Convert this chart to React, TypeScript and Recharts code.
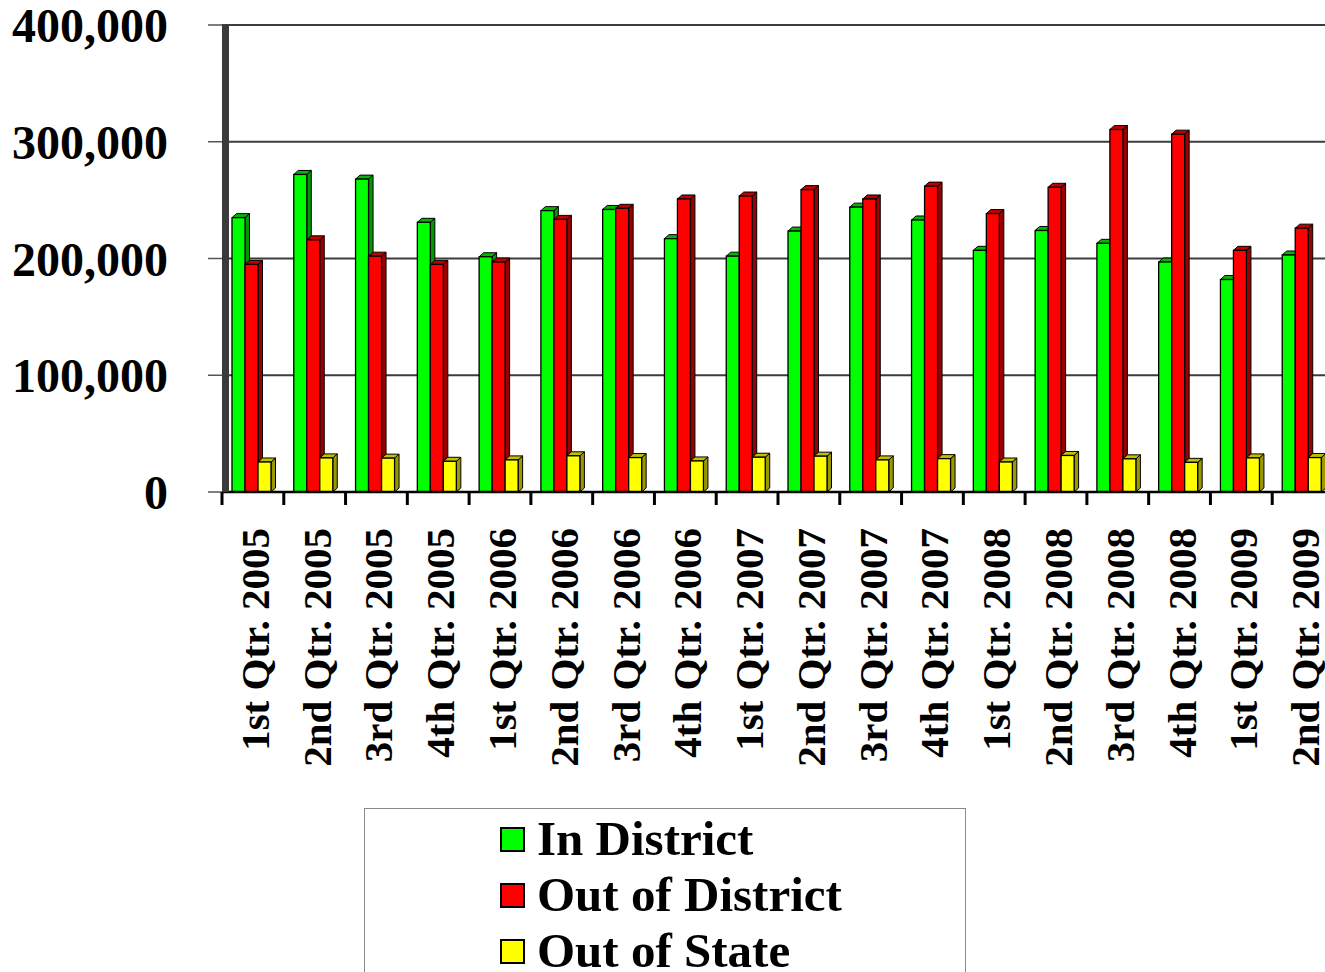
import React from "react";
import {
  BarChart,
  Bar,
  XAxis,
  YAxis,
  CartesianGrid,
  Legend,
} from "recharts";

const quarters = [
  "1st Qtr. 2005",
  "2nd Qtr. 2005",
  "3rd Qtr. 2005",
  "4th Qtr. 2005",
  "1st Qtr. 2006",
  "2nd Qtr. 2006",
  "3rd Qtr. 2006",
  "4th Qtr. 2006",
  "1st Qtr. 2007",
  "2nd Qtr. 2007",
  "3rd Qtr. 2007",
  "4th Qtr. 2007",
  "1st Qtr. 2008",
  "2nd Qtr. 2008",
  "3rd Qtr. 2008",
  "4th Qtr. 2008",
  "1st Qtr. 2009",
  "2nd Qtr. 2009",
];

const inDistrict = [
  235000, 272000, 268000, 231000, 201500, 241000, 242000, 217000, 202000,
  223500, 244000, 233000, 207000, 224000, 213000, 197000, 182000, 203000,
];

const outOfDistrict = [
  195000, 216000, 202000, 195000, 197000, 233500, 243000, 251000, 253500,
  259000, 251000, 262000, 238500, 261000, 310500, 306500, 207000, 226000,
];

const outOfState = [
  25700, 29200, 29000, 26300, 27500, 31000, 29500, 26600, 29800, 30700,
  27500, 28600, 25700, 31300, 28400, 25400, 29200, 29500,
];

const yTicks = [0, 100000, 200000, 300000, 400000];

const series = [
  { key: "inDistrict", name: "In District", front: "#00ff00", side: "#009a00", top: "#00b800" },
  { key: "outOfDistrict", name: "Out of District", front: "#ff0000", side: "#9a0000", top: "#c00000" },
  { key: "outOfState", name: "Out of State", front: "#ffff00", side: "#9a9a00", top: "#c0c000" },
];

const data = quarters.map((q, i) => ({
  quarter: q,
  inDistrict: inDistrict[i],
  outOfDistrict: outOfDistrict[i],
  outOfState: outOfState[i],
}));

const CHART_W = 1345;
const CHART_H = 972;
const Y_W = 222;
const M_RIGHT = 11;
const CAT_W = (CHART_W - Y_W - M_RIGHT) / quarters.length;
const FONT = "'Liberation Serif', 'Times New Roman', serif";

// fake 3d column: side + top faces behind the front face
function make3d(front: string, side: string, top: string) {
  return (props: any) => {
    const { x, y, width, height } = props;
    if (height == null || width == null) return null;
    const d = 4.5;
    const dy = 4;
    const x0 = x - 1;
    const w = width;
    const h = height;
    return (
      <g>
        <polygon
          points={`${x0 + w},${y} ${x0 + w + d},${y - dy} ${x0 + w + d},${y + h - dy} ${x0 + w},${y + h}`}
          fill={side}
          stroke="#000"
          strokeWidth={1}
        />
        <polygon
          points={`${x0},${y} ${x0 + d},${y - dy} ${x0 + w + d},${y - dy} ${x0 + w},${y}`}
          fill={top}
          stroke="#000"
          strokeWidth={1}
        />
        <rect x={x0} y={y} width={w} height={h} fill={front} stroke="#000" strokeWidth={1.3} />
      </g>
    );
  };
}

function XTick(props: any) {
  const { x, y, payload } = props;
  const edge = x - CAT_W / 2;
  return (
    <g>
      <line x1={edge} y1={y} x2={edge} y2={y + 13} stroke="#000" strokeWidth={3} />
      <text
        transform={`translate(${x + 16},${y + 36}) rotate(-90)`}
        textAnchor="end"
        fontFamily={FONT}
        fontWeight="bold"
        fontSize={41}
        fill="#000"
      >
        {payload.value}
      </text>
    </g>
  );
}

function LegendBox() {
  return (
    <div
      style={{
        boxSizing: "border-box",
        width: 602,
        height: 200,
        border: "1px solid #8a8a8a",
        background: "#fff",
        paddingTop: 2,
        paddingLeft: 135,
        fontFamily: FONT,
        fontWeight: "bold",
        fontSize: 49,
        color: "#000",
      }}
    >
      {series.map((s) => (
        <div key={s.key} style={{ display: "flex", alignItems: "center", height: 56 }}>
          <span
            style={{
              display: "inline-block",
              boxSizing: "border-box",
              width: 25,
              height: 25,
              background: s.front,
              border: "2px solid #000",
              marginRight: 12,
            }}
          />
          <span style={{ lineHeight: "56px", whiteSpace: "nowrap" }}>{s.name}</span>
        </div>
      ))}
    </div>
  );
}

export default function App() {
  return (
    <div
      style={{
        position: "absolute",
        left: 0,
        top: 0,
        width: 1325,
        height: 972,
        overflow: "hidden",
        background: "#fff",
      }}
    >
      <BarChart
        width={CHART_W}
        height={CHART_H}
        data={data}
        margin={{ top: 25, right: M_RIGHT, left: 0, bottom: 0 }}
        barGap={0}
        barSize={13}
      >
        <CartesianGrid vertical={false} stroke="#3c3c3c" strokeWidth={2} />
        <XAxis
          dataKey="quarter"
          height={480}
          interval={0}
          tickLine={false}
          tickSize={0}
          tickMargin={0}
          axisLine={{ stroke: "#000", strokeWidth: 2.5 }}
          tick={<XTick />}
        />
        <YAxis
          width={Y_W}
          domain={[0, 400000]}
          ticks={yTicks}
          interval={0}
          tickSize={14}
          tickMargin={40}
          tickLine={{ stroke: "#555", strokeWidth: 1.5 }}
          axisLine={{ stroke: "#3a3a3a", strokeWidth: 7, transform: "translate(3.5,0)" }}
          tickFormatter={(v: number) => v.toLocaleString("en-US")}
          tick={{ fontFamily: FONT, fontWeight: "bold", fontSize: 48, fill: "#000" }}
        />
        {series.map((s) => (
          <Bar
            key={s.key}
            dataKey={s.key}
            name={s.name}
            fill={s.front}
            isAnimationActive={false}
            shape={make3d(s.front, s.side, s.top)}
          />
        ))}
        <Legend
          layout="horizontal"
          verticalAlign="middle"
          align="center"
          wrapperStyle={{ left: 364, top: 808, width: 602, height: 200 }}
          content={() => <LegendBox />}
        />
      </BarChart>
    </div>
  );
}
